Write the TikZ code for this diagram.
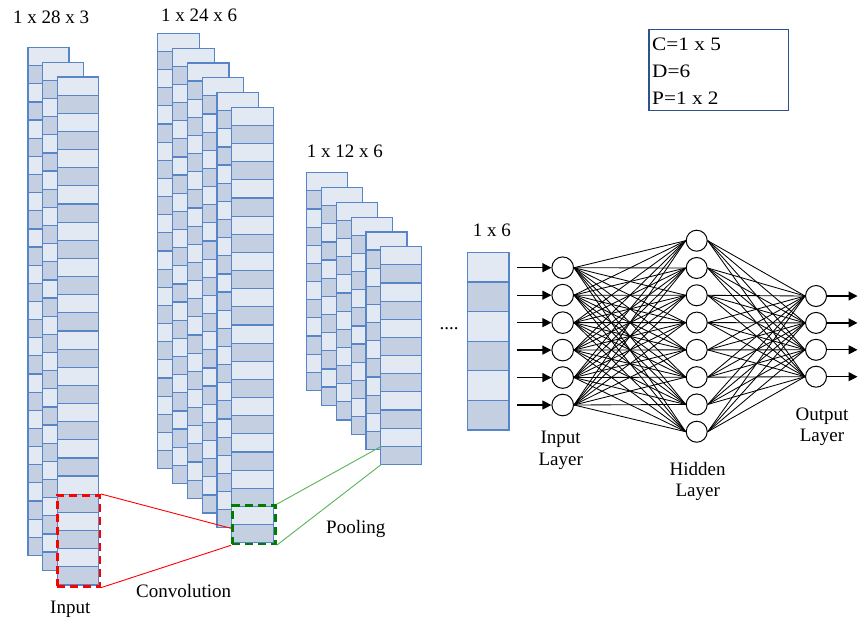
\documentclass[tikz,border=0pt]{standalone}
\usepackage{fontspec}
\setmainfont{Liberation Serif}
\usetikzlibrary{arrows.meta}
\definecolor{celllight}{RGB}{227,233,243}
\definecolor{celldark}{RGB}{197,207,226}
\definecolor{cellline}{RGB}{88,132,200}
\definecolor{legendline}{RGB}{47,82,143}
\definecolor{poolgreen}{RGB}{90,180,90}
\definecolor{boxgreen}{RGB}{0,125,0}
\newcommand\drawcol[5]{%
  \foreach \i in {1,...,#5}{%
    \ifodd\i\def\cf{celllight}\else\def\cf{celldark}\fi
    \draw[cellbox,fill=\cf] (#1,{#2+(\i-1)*#4}) rectangle ++(#3,#4);
  }%
}
\newcommand\legtext[1]{\scalebox{1.12}[1]{#1}}
\tikzset{
  cellbox/.style={draw=cellline,line width=1.2pt},
  lbl/.style={font=\fontsize{19}{21.7}\selectfont,inner sep=0pt},
  neuron/.style={circle,draw=black,line width=1pt,fill=white,inner sep=0pt},
  edge/.style={black,line width=0.85pt},
  ioarrow/.style={black,line width=1.2pt,-{Triangle[length=9pt,width=9pt]}},
  redbox/.style={draw=red,line width=2.6pt,dash pattern=on 8pt off 5pt,inner sep=0pt,anchor=north west},
  greenbox/.style={draw=boxgreen,line width=2.6pt,dash pattern=on 8pt off 5pt,inner sep=0pt,anchor=north west},
}
\begin{document}
\begin{tikzpicture}[x=1pt,y=-1pt]
\useasboundingbox (0,0) rectangle (858,619);
\fill[white] (0,0) rectangle (858,619);
% stack 1: 1 x 28 x 3
\foreach \k in {0,1,2}{%
  \pgfmathsetmacro\cx{28+14.75*\k}\pgfmathsetmacro\cy{47.5+14.75*\k}%
  \drawcol{\cx}{\cy}{41}{18.14}{28}}
% stack 2: 1 x 24 x 6
\foreach \k in {0,...,5}{%
  \pgfmathsetmacro\cx{157.7+14.8*\k}\pgfmathsetmacro\cy{33.3+14.8*\k}%
  \drawcol{\cx}{\cy}{41.6}{18.14}{24}}
% stack 3: 1 x 12 x 6
\foreach \k in {0,...,5}{%
  \pgfmathsetmacro\cx{306.7+14.8*\k}\pgfmathsetmacro\cy{172.7+14.8*\k}%
  \drawcol{\cx}{\cy}{41}{18.14}{12}}
% 1 x 6
\drawcol{467.3}{252.3}{41.7}{29.6}{6}

% labels
\node[lbl,anchor=base west] (t1) at (13,23.5) {1 x 28 x 3};
\node[lbl,anchor=base west] (t2) at (161,21.7) {1 x 24 x 6};
\node[lbl,anchor=base west] (t3) at (306.7,157.3) {1 x 12 x 6};
\node[lbl,anchor=base west] (t4) at (472.7,236.7) {1 x 6};
\node[lbl,anchor=base west] (tin) at (50,613) {Input};
\node[lbl,anchor=base west] (tconv) at (136,597.3) {Convolution};
\node[lbl,anchor=base west] (tpool) at (326,533.3) {Pooling};
\node[lbl,anchor=base west] (dots) at (439.5,329) {....};

% dashed boxes and connectors
\node[redbox,minimum width=42.5pt,minimum height=91pt] (rbox) at (56,494) {};
\node[greenbox,minimum width=43pt,minimum height=38.4pt] (gbox) at (231,504.3) {};
\coordinate (c1) at (231,528.3);
\draw[red,line width=0.9pt] (rbox.north east) -- (c1);
\draw[red,line width=0.9pt] (rbox.south east) -- (gbox.south west);
\coordinate (p1) at (381.5,446.2);
\coordinate (p2) at (381.5,464.3);
\draw[poolgreen,line width=0.9pt] (gbox.north east) -- (p1);
\draw[poolgreen,line width=0.9pt] (gbox.south east) -- (p2);

% legend
\node[draw=legendline,line width=1.2pt,minimum width=139.4pt,minimum height=81pt,inner sep=0pt,anchor=north west] (legend) at (648.3,29) {};
\node[lbl,anchor=base west] (lc) at (652,50.7) {\legtext{C=1 x 5}};
\node[lbl,anchor=base west] (ld) at (652,77.3) {\legtext{D=6}};
\node[lbl,anchor=base west] (lp) at (652,104) {\legtext{P=1 x 2}};

% neural network
\foreach \i in {1,...,6}
  \node[neuron,minimum size=21.6pt] (I\i) at (562.7,{267.7+27.46*(\i-1)}) {};
\foreach \j in {1,...,8}
  \node[neuron,minimum size=21pt] (H\j) at (696.7,{240.7+27.29*(\j-1)}) {};
\foreach \k in {1,...,4}
  \node[neuron,minimum size=21pt] (O\k) at (816,{296+26.9*(\k-1)}) {};
\foreach \i in {1,...,6}
  \foreach \j in {1,...,8}
    \draw[edge] (I\i.east) -- (H\j.west);
\foreach \j in {1,...,8}
  \foreach \k in {1,...,4}
    \draw[edge] (H\j.east) -- (O\k.west);
\foreach \i in {1,...,6}{
  \coordinate (a\i) at (517,{267.7+27.46*(\i-1)});
  \draw[ioarrow] (a\i) -- (I\i.west);}
\foreach \k in {1,...,4}{
  \coordinate (b\k) at (857.5,{296+26.9*(\k-1)});
  \draw[ioarrow] (O\k.east) -- (b\k);}
\node[lbl,anchor=base,align=center] (lin) at (560.7,465) {Input\\Layer};
\node[lbl,anchor=base,align=center] (lhid) at (697.7,496.7) {Hidden\\Layer};
\node[lbl,anchor=base,align=center] (lout) at (822,441.7) {Output\\Layer};
\end{tikzpicture}
\end{document}
